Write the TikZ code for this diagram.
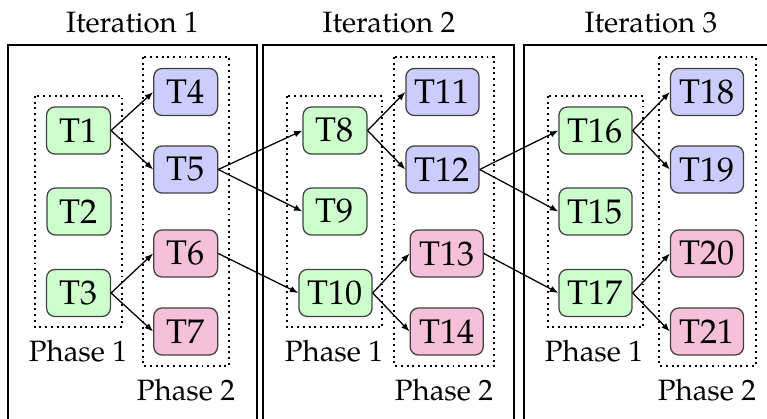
\documentclass[tikz,border=0pt]{standalone}
\usepackage{fontspec}
\setmainfont{TeX Gyre Pagella}
\usetikzlibrary{arrows.meta}
\definecolor{tgreen}{RGB}{204,255,204}
\definecolor{tblue}{RGB}{204,204,255}
\definecolor{tpink}{RGB}{246,192,216}
\begin{document}
\begin{tikzpicture}[x=0.357pt,y=-0.357pt,
  task/.style={draw=black!75, line width=0.45pt, rounded corners=3pt,
    minimum height=16.8pt, minimum width=22.8pt, inner sep=1pt,
    font=\fontsize{12.2}{14}\selectfont},
  wide/.style={minimum width=26.1pt},
  ph1/.style={task, fill=tgreen},
  ph2a/.style={task, fill=tblue},
  ph2b/.style={task, fill=tpink},
  phasebox/.style={line width=0.7pt, dash pattern=on 0.7pt off 1.35pt},
  iterbox/.style={line width=0.8pt},
  lbl/.style={font=\fontsize{10.5}{12}\selectfont, inner sep=0pt},
  dep/.style={line width=0.45pt, -{Latex[length=3pt,width=2.3pt]}}]
\clip (0,0) rectangle (767,419);
\useasboundingbox (0,0) rectangle (767,419);

% iteration boxes
\draw[iterbox] (8.3,45) rectangle (256.7,440);
\draw[iterbox] (263.3,45) rectangle (514.3,440);
\draw[iterbox] (524.3,45) rectangle (778,440);
\node[lbl] (it1) at (132.5,23) {Iteration 1};
\node[lbl] (it2) at (389,23) {Iteration 2};
\node[lbl] (it3) at (651,23) {Iteration 3};

% phase boxes
\draw[phasebox] (35,96) rectangle (122,327);
\draw[phasebox] (143,57) rectangle (229,366);
\draw[phasebox] (287,96) rectangle (382,327);
\draw[phasebox] (394,57) rectangle (494,366);
\draw[phasebox] (548,96) rectangle (643,327);
\draw[phasebox] (659,57) rectangle (756,366);

\node[lbl] (p11) at (78,351.5) {Phase 1};
\node[lbl] (p12) at (186,390.5) {Phase 2};
\node[lbl] (p21) at (334,351.5) {Phase 1};
\node[lbl] (p22) at (444,390.5) {Phase 2};
\node[lbl] (p31) at (594,351.5) {Phase 1};
\node[lbl] (p32) at (707,390.5) {Phase 2};

% iteration 1
\node[ph1] (T1) at (78.5,130.5) {T1};
\node[ph1] (T2) at (79,211.5) {T2};
\node[ph1] (T3) at (78.5,293) {T3};
\node[ph2a] (T4) at (185.7,92) {T4};
\node[ph2a] (T5) at (185.7,169.5) {T5};
\node[ph2b] (T6) at (185.7,253.5) {T6};
\node[ph2b] (T7) at (185.7,331.5) {T7};

% iteration 2
\node[ph1] (T8) at (335,130.5) {T8};
\node[ph1] (T9) at (335,211.5) {T9};
\node[ph1,wide] (T10) at (335.5,293) {T10};
\node[ph2a,wide] (T11) at (442.5,92) {T11};
\node[ph2a,wide] (T12) at (442.5,169.5) {T12};
\node[ph2b,wide] (T13) at (446.7,253.5) {T13};
\node[ph2b,wide] (T14) at (446.7,331.5) {T14};

% iteration 3
\node[ph1,wide] (T16) at (595.5,130.5) {T16};
\node[ph1,wide] (T15) at (595.5,211.5) {T15};
\node[ph1,wide] (T17) at (595.5,293) {T17};
\node[ph2a,wide] (T18) at (707,92) {T18};
\node[ph2a,wide] (T19) at (707,169.5) {T19};
\node[ph2b,wide] (T20) at (707,253.5) {T20};
\node[ph2b,wide] (T21) at (707,331.5) {T21};

% dependencies
\foreach \a/\b in {T1/T4,T1/T5,T3/T6,T3/T7,T5/T8,T5/T9,T6/T10,
  T8/T11,T8/T12,T10/T13,T10/T14,T12/T16,T12/T15,T13/T17,
  T16/T18,T16/T19,T17/T20,T17/T21}
  \draw[dep] (\a.east) -- (\b.west);
\end{tikzpicture}
\end{document}
